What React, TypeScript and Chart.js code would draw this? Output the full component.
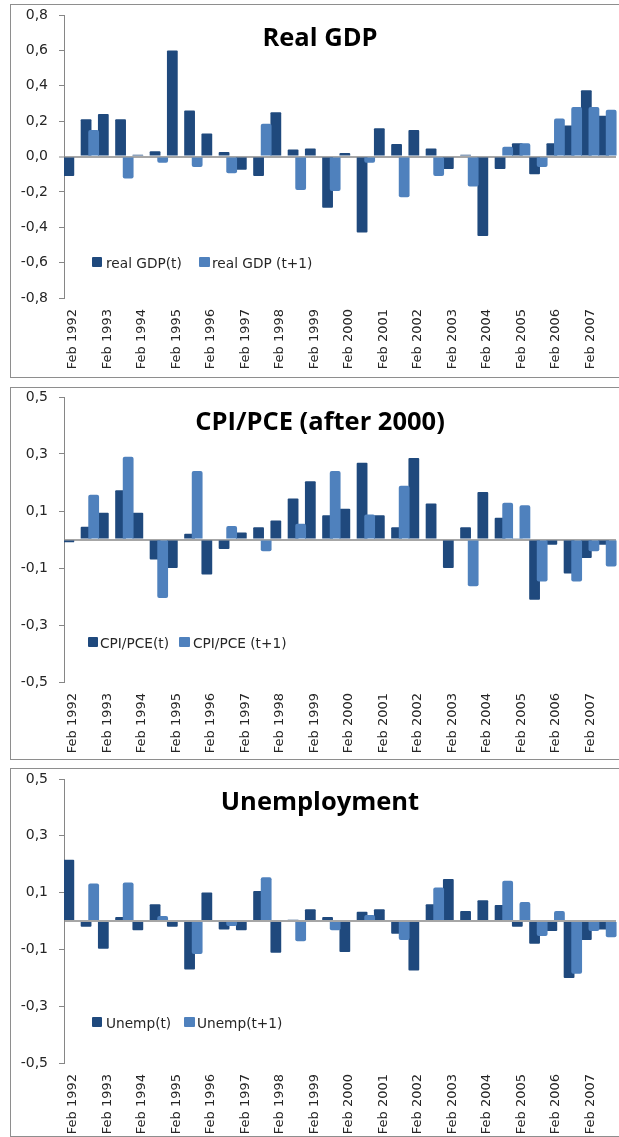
import React, { useEffect, useRef } from 'react';
import { Chart, registerables } from 'chart.js';

Chart.register(...registerables);

const categories = [
  'Feb 1992', 'Jul 1992', 'Feb 1993', 'Jul 1993', 'Feb 1994', 'Jul 1994', 'Feb 1995', 'Jul 1995',
  'Feb 1996', 'Jul 1996', 'Feb 1997', 'Jul 1997', 'Feb 1998', 'Jul 1998', 'Feb 1999', 'Jul 1999',
  'Feb 2000', 'Jul 2000', 'Feb 2001', 'Jul 2001', 'Feb 2002', 'Jul 2002', 'Feb 2003', 'Jul 2003',
  'Feb 2004', 'Jul 2004', 'Feb 2005', 'Jul 2005', 'Feb 2006', 'Jul 2006', 'Feb 2007', 'Jul 2007',
];

const gdpT = [-0.11, 0.21, 0.24, 0.21, 0.01, 0.03, 0.6, 0.26, 0.13, 0.025, -0.075, -0.11, 0.25, 0.04, 0.045, -0.29,
  0.02, -0.43, 0.16, 0.07, 0.15, 0.045, -0.07, 0.01, -0.45, -0.07, 0.075, -0.1, 0.075, 0.175, 0.375, 0.23];
const gdpT1 = [null, 0.15, null, -0.125, null, -0.035, null, -0.06, null, -0.095, null, 0.185, null, -0.19, null, -0.195,
  null, -0.035, null, -0.23, null, -0.11, null, -0.17, null, 0.055, 0.075, -0.06, 0.215, 0.28, 0.28, 0.265];

const cpiT = [-0.01, 0.045, 0.094, 0.173, 0.094, -0.07, -0.1, 0.02, -0.123, -0.033, 0.025, 0.043, 0.067, 0.144, 0.204, 0.085,
  0.108, 0.269, 0.085, 0.043, 0.286, 0.126, -0.1, 0.043, 0.167, 0.076, 0.004, -0.211, -0.018, -0.119, -0.065, -0.018];
const cpiT1 = [null, 0.157, null, 0.29, null, -0.205, null, 0.24, null, 0.047, null, -0.041, null, 0.055, null, 0.24,
  null, 0.088, null, 0.189, null, null, null, -0.164, null, 0.129, 0.12, -0.147, null, -0.147, -0.041, -0.095];

const unT = [0.216, -0.02, -0.098, 0.014, -0.033, 0.059, -0.02, -0.171, 0.1, -0.03, -0.033, 0.106, -0.112, 0.004, 0.041, 0.014,
  -0.109, 0.033, 0.041, -0.045, -0.174, 0.059, 0.148, 0.035, 0.073, 0.056, -0.02, -0.08, -0.035, -0.201, -0.067, -0.03];
const unT1 = [null, 0.132, null, 0.136, null, 0.018, null, -0.116, null, -0.018, null, 0.154, null, -0.071, null, -0.033,
  null, 0.021, null, -0.067, null, 0.118, null, null, null, 0.142, 0.067, -0.053, 0.035, -0.186, -0.035, -0.057];

const gdpTicks = [-0.8, -0.6, -0.4, -0.2, 0, 0.2, 0.4, 0.6, 0.8];
const halfTicks = [-0.5, -0.3, -0.1, 0, 0.1, 0.3, 0.5];

const DARK = '#1F497D';
const LIGHT = '#4F81BD';
const AXIS = '#868686';
const TEXT = '#262626';

const lightOnTop = {
  id: 'lightOnTop',
  beforeDatasetDraw(_chart: any, args: any) {
    if (args.index === 1) return false;
    return true;
  },
  afterDatasetsDraw(chart: any) {
    const meta = chart.getDatasetMeta(1);
    const ctx = chart.ctx;
    ctx.save();
    meta.controller.draw();
    ctx.restore();
  },
};

type PanelProps = {
  top: number;
  boxHeight: number;
  padTop: number;
  xHeight: number;
  t: (number | null)[];
  t1: (number | null)[];
  labelT: string;
  labelT1: string;
  min: number;
  max: number;
  ticks: number[];
  zeroLabel: boolean;
};

function BarPanel(p: PanelProps) {
  const ref = useRef<HTMLCanvasElement>(null);
  useEffect(() => {
    const isZero = (v: number) => Math.abs(v) < 1e-9;
    const chart = new Chart(ref.current as HTMLCanvasElement, {
      type: 'bar',
      data: {
        labels: categories,
        datasets: [
          { label: p.labelT, data: p.t as any, backgroundColor: DARK, borderRadius: 1, categoryPercentage: 0.88, barPercentage: 1.42 },
          { label: p.labelT1, data: p.t1 as any, backgroundColor: LIGHT, borderRadius: 2, categoryPercentage: 0.88, barPercentage: 1.42 },
        ],
      },
      options: {
        responsive: false,
        animation: false,
        devicePixelRatio: 1,
        layout: { padding: { top: p.padTop, right: 15, left: 0, bottom: 0 } },
        plugins: { legend: { display: false }, title: { display: false }, tooltip: { enabled: false } },
        scales: {
          x: {
            grid: { display: false, drawTicks: false },
            border: { display: false },
            ticks: {
              autoSkip: false,
              maxRotation: 90,
              minRotation: 90,
              padding: 11,
              color: TEXT,
              font: { family: 'DejaVu Sans', size: 13 },
              callback: (_v: any, i: number) => (i % 2 === 0 ? categories[i] : ''),
            },
            afterFit: (s: any) => { s.height = p.xHeight; s.paddingLeft = 0; s.paddingRight = 0; },
          },
          y: {
            min: p.min,
            max: p.max,
            afterBuildTicks: (s: any) => { s.ticks = p.ticks.map((v) => ({ value: v })); },
            ticks: {
              padding: 11,
              color: TEXT,
              font: { family: 'DejaVu Sans', size: 14 },
              callback: (v: any) => {
                const n = Number(v);
                if (isZero(n) && !p.zeroLabel) return '';
                return (isZero(n) ? 0 : n).toFixed(1).replace('.', ',');
              },
            },
            grid: {
              display: true,
              drawOnChartArea: true,
              drawTicks: true,
              tickLength: 5,
              color: (c: any) => (c.tick && isZero(c.tick.value) ? '#A6A6A6' : 'rgba(0,0,0,0)'),
              lineWidth: (c: any) => (c.tick && isZero(c.tick.value) ? 2 : 1),
              tickColor: (c: any) => (c.tick && isZero(c.tick.value) && !p.zeroLabel ? 'rgba(0,0,0,0)' : AXIS),
              tickWidth: 1,
            },
            border: { display: true, color: AXIS, width: 1 },
            afterFit: (s: any) => { s.width = 53; s.paddingTop = 0; s.paddingBottom = 0; },
          },
        },
      },
      plugins: [lightOnTop],
    } as any);
    return () => chart.destroy();
  }, []);
  const inner = p.boxHeight - 2;
  return (
    <div style={{ position: 'absolute', left: 10, top: p.top, width: 640, height: p.boxHeight, boxSizing: 'border-box', border: '1px solid #8E8E8E', background: '#fff' }}>
      <canvas ref={ref} width={620} height={inner} style={{ position: 'absolute', left: 0, top: 0, width: 620, height: inner }} />
    </div>
  );
}

const titleStyle: React.CSSProperties = {
  position: 'absolute', left: 0, width: 640, textAlign: 'center', fontFamily: '"Open Sans", sans-serif',
  fontWeight: 700, fontSize: 25.5, lineHeight: '25px', color: '#000', whiteSpace: 'nowrap',
};
const legendText: React.CSSProperties = {
  position: 'absolute', fontFamily: '"DejaVu Sans", sans-serif', fontSize: 13.7, lineHeight: '14px', color: TEXT, whiteSpace: 'nowrap',
};

function Legend({ top, items }: { top: number; items: { sq: number; tx: number; text: string; color: string; w: number }[] }) {
  return (
    <>
      {items.map((it, i) => (
        <React.Fragment key={i}>
          <div style={{ position: 'absolute', left: it.sq, top: top + 0.5, width: it.w, height: 10.5, background: it.color, borderRadius: 1 }} />
          <div style={{ ...legendText, left: it.tx, top: top }}>{it.text}</div>
        </React.Fragment>
      ))}
    </>
  );
}

export default function App() {
  return (
    <div style={{ position: 'fixed', left: 0, top: 0, width: 619, height: 1137, overflow: 'hidden', background: '#fff' }}>
      <BarPanel top={4} boxHeight={374} padTop={10} xHeight={79} t={gdpT} t1={gdpT1} labelT="real GDP(t)" labelT1="real GDP (t+1)" min={-0.8} max={0.8} ticks={gdpTicks} zeroLabel={true} />
      <BarPanel top={387} boxHeight={373} padTop={9} xHeight={77} t={cpiT} t1={cpiT1} labelT="CPI/PCE(t)" labelT1="CPI/PCE (t+1)" min={-0.5} max={0.5} ticks={halfTicks} zeroLabel={false} />
      <BarPanel top={768} boxHeight={369} padTop={10} xHeight={73} t={unT} t1={unT1} labelT="Unemp(t)" labelT1="Unemp(t+1)" min={-0.5} max={0.5} ticks={halfTicks} zeroLabel={false} />

      <div style={{ ...titleStyle, top: 24 }}>Real GDP</div>
      <div style={{ ...titleStyle, top: 408 }}>CPI/PCE (after 2000)</div>
      <div style={{ ...titleStyle, top: 788 }}>Unemployment</div>

      <Legend top={256} items={[
        { sq: 92, tx: 106, text: 'real GDP(t)', color: DARK, w: 10 },
        { sq: 199, tx: 212, text: 'real GDP (t+1)', color: LIGHT, w: 11 },
      ]} />
      <Legend top={636} items={[
        { sq: 88, tx: 100, text: 'CPI/PCE(t)', color: DARK, w: 10 },
        { sq: 179, tx: 193, text: 'CPI/PCE (t+1)', color: LIGHT, w: 11 },
      ]} />
      <Legend top={1016} items={[
        { sq: 92, tx: 106, text: 'Unemp(t)', color: DARK, w: 10 },
        { sq: 184, tx: 197, text: 'Unemp(t+1)', color: LIGHT, w: 11 },
      ]} />
    </div>
  );
}
